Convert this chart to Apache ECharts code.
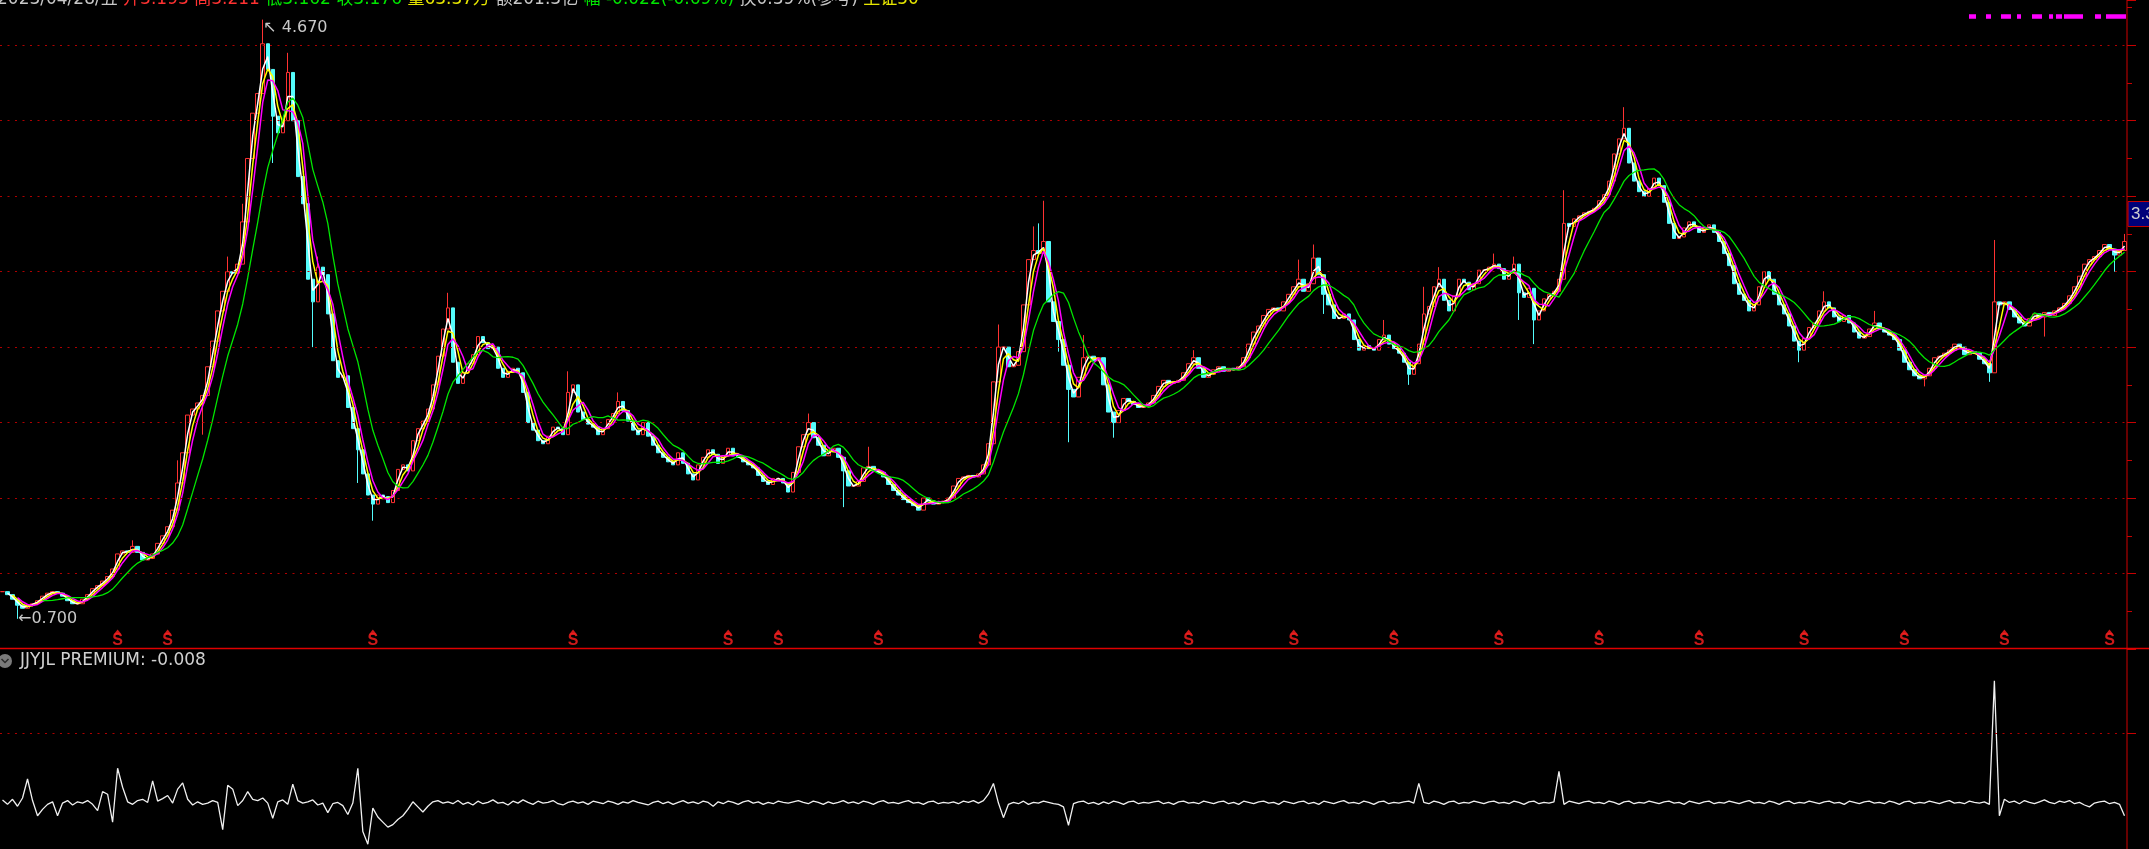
<!DOCTYPE html>
<html>
<head>
<meta charset="utf-8">
<title>JJYJL PREMIUM</title>
<script src="https://cdn.jsdelivr.net/npm/echarts@6/dist/echarts.min.js"></script>
<style>
  html, body { margin: 0; padding: 0; background: #000; overflow: hidden; }
  #main { width: 2149px; height: 849px; }
</style>
</head>
<body>
<div id="main"></div>
<script>
// 收盘价, 每根K线一个, 从图上读出 (开盘取前一日收盘)
var closes = [
  0.88,0.86,0.83,0.79,0.77,0.79,0.80,0.82,0.85,0.87,
  0.88,0.87,0.85,0.82,0.80,0.80,0.83,0.86,0.90,0.92,
  0.95,0.98,1.03,1.13,1.15,1.14,1.18,1.14,1.09,1.10,
  1.13,1.20,1.25,1.31,1.42,1.60,1.80,2.05,2.09,2.13,
  2.18,2.37,2.54,2.74,2.87,3.00,2.99,3.05,3.33,3.75,
  4.05,4.18,4.51,4.34,4.03,3.92,4.00,4.32,4.00,3.63,
  3.45,2.95,2.80,3.03,2.98,2.72,2.41,2.30,2.31,2.10,
  1.96,1.82,1.66,1.52,1.46,1.52,1.51,1.47,1.55,1.69,
  1.72,1.68,1.88,1.96,2.01,2.09,2.25,2.44,2.62,2.76,
  2.40,2.26,2.33,2.39,2.45,2.57,2.53,2.49,2.50,2.36,
  2.30,2.34,2.36,2.33,2.20,2.00,1.95,1.88,1.86,1.91,
  1.97,1.96,1.92,2.20,2.25,2.07,2.02,1.99,1.97,1.92,
  1.96,2.02,2.06,2.14,2.08,2.01,1.95,1.92,2.00,1.91,
  1.85,1.80,1.77,1.74,1.72,1.80,1.73,1.66,1.62,1.72,
  1.77,1.82,1.79,1.73,1.78,1.83,1.78,1.77,1.74,1.72,
  1.70,1.65,1.61,1.59,1.63,1.63,1.60,1.54,1.67,1.84,
  1.92,2.00,1.90,1.85,1.78,1.81,1.83,1.77,1.68,1.58,
  1.58,1.61,1.70,1.71,1.68,1.67,1.64,1.59,1.55,1.52,
  1.49,1.47,1.45,1.42,1.50,1.48,1.46,1.47,1.48,1.50,
  1.58,1.63,1.64,1.65,1.64,1.66,1.72,1.86,2.27,2.50,
  2.50,2.37,2.38,2.47,2.78,3.08,3.14,3.12,3.20,2.80,
  2.67,2.55,2.38,2.22,2.17,2.30,2.43,2.44,2.41,2.43,
  2.25,2.07,2.00,2.08,2.16,2.14,2.12,2.10,2.11,2.13,
  2.18,2.24,2.28,2.26,2.27,2.28,2.33,2.39,2.43,2.36,
  2.30,2.32,2.35,2.37,2.34,2.36,2.35,2.37,2.43,2.52,
  2.60,2.64,2.71,2.75,2.76,2.74,2.80,2.85,2.90,2.95,
  2.87,2.92,3.09,2.98,2.85,2.78,2.69,2.69,2.72,2.68,
  2.55,2.48,2.51,2.49,2.48,2.55,2.58,2.52,2.49,2.46,
  2.40,2.32,2.39,2.52,2.72,2.77,2.90,2.95,2.81,2.74,
  2.84,2.95,2.93,2.88,2.92,3.01,3.01,3.03,3.05,3.02,
  2.95,2.99,3.05,2.86,2.83,2.89,2.68,2.74,2.82,2.85,
  2.87,2.95,3.32,3.30,3.35,3.37,3.39,3.40,3.42,3.47,
  3.51,3.60,3.78,3.88,3.95,3.72,3.60,3.53,3.50,3.55,
  3.62,3.57,3.46,3.32,3.22,3.23,3.29,3.33,3.30,3.26,
  3.28,3.31,3.26,3.20,3.12,3.04,2.92,2.85,2.81,2.74,
  2.78,2.90,3.00,2.95,2.85,2.78,2.72,2.64,2.54,2.48,
  2.56,2.63,2.66,2.74,2.80,2.76,2.70,2.67,2.71,2.66,
  2.60,2.56,2.57,2.62,2.66,2.62,2.60,2.58,2.55,2.48,
  2.40,2.35,2.31,2.29,2.31,2.36,2.43,2.44,2.46,2.48,
  2.52,2.50,2.45,2.47,2.46,2.42,2.39,2.33,2.80,2.78,
  2.80,2.75,2.70,2.66,2.64,2.69,2.72,2.70,2.73,2.71,
  2.74,2.76,2.79,2.84,2.90,2.97,3.05,3.08,3.10,3.14,
  3.18,3.15,3.11,3.14,3.20
];

// 明显的上下影线 [序号, 价格]
var wickHighs = [
  [26,1.22],[35,1.75],[45,3.10],[48,3.45],[52,4.67],[57,4.45],[63,3.10],[89,2.86],
  [113,2.34],[123,2.20],[161,2.06],[173,1.84],[199,2.65],[206,3.30],[207,3.32],[208,3.47],
  [216,2.58],[238,2.48],[259,3.08],[262,3.18],[276,2.68],[284,2.90],[287,3.03],[298,3.12],
  [302,3.10],[312,3.54],[324,4.09],[364,2.87],[374,2.74],[398,3.21],[424,3.25]
];
var wickLows = [
  [3,0.70],[40,1.92],[54,3.72],[62,2.50],[71,1.60],[74,1.35],[168,1.44],[211,2.47],
  [213,1.87],[222,1.90],[264,2.72],[281,2.25],[303,2.68],[306,2.52],[359,2.40],[384,2.24],
  [397,2.27],[408,2.57],[422,3.00]
];

// 下方副图 JJYJL PREMIUM
var premium = [
  -0.005,-0.012,-0.004,-0.015,-0.002,0.028,-0.006,-0.030,-0.020,-0.012,
  -0.008,-0.030,-0.010,-0.006,-0.013,-0.008,-0.010,-0.006,-0.012,-0.022,
  0.008,0.004,-0.040,0.045,0.015,-0.008,-0.012,-0.006,-0.004,-0.009,
  0.025,-0.007,-0.003,0.002,-0.010,0.012,0.022,-0.004,-0.013,-0.008,
  -0.012,-0.010,-0.006,-0.009,-0.052,0.018,0.012,-0.014,-0.006,0.008,
  -0.004,-0.006,-0.002,-0.010,-0.034,-0.008,-0.005,-0.012,0.020,-0.006,
  -0.010,-0.008,-0.005,-0.013,-0.010,-0.025,-0.011,-0.009,-0.014,-0.028,
  -0.010,0.045,-0.055,-0.075,-0.018,-0.032,-0.040,-0.048,-0.044,-0.036,
  -0.030,-0.020,-0.008,-0.016,-0.024,-0.015,-0.008,-0.006,-0.010,-0.008,
  -0.011,-0.006,-0.012,-0.009,-0.013,-0.007,-0.011,-0.009,-0.005,-0.010,
  -0.009,-0.013,-0.007,-0.010,-0.005,-0.009,-0.012,-0.007,-0.010,-0.009,
  -0.006,-0.011,-0.013,-0.009,-0.007,-0.010,-0.008,-0.012,-0.007,-0.009,
  -0.011,-0.007,-0.009,-0.012,-0.008,-0.010,-0.006,-0.009,-0.011,-0.013,
  -0.009,-0.007,-0.011,-0.008,-0.012,-0.009,-0.006,-0.010,-0.008,-0.011,
  -0.007,-0.009,-0.015,-0.008,-0.011,-0.007,-0.009,-0.012,-0.008,-0.006,
  -0.010,-0.008,-0.012,-0.009,-0.011,-0.007,-0.009,-0.010,-0.008,-0.006,
  -0.009,-0.011,-0.007,-0.009,-0.012,-0.008,-0.011,-0.009,-0.006,-0.010,
  -0.008,-0.011,-0.007,-0.009,-0.012,-0.008,-0.006,-0.010,-0.009,-0.011,
  -0.008,-0.006,-0.010,-0.009,-0.012,-0.008,-0.007,-0.011,-0.009,-0.010,
  -0.008,-0.011,-0.007,-0.009,-0.006,-0.010,-0.006,0.004,0.021,-0.010,
  -0.033,-0.012,-0.009,-0.011,-0.007,-0.012,-0.009,-0.010,-0.007,-0.009,
  -0.011,-0.012,-0.016,-0.045,-0.011,-0.008,-0.007,-0.011,-0.009,-0.012,
  -0.008,-0.011,-0.007,-0.009,-0.012,-0.008,-0.007,-0.011,-0.009,-0.010,
  -0.008,-0.007,-0.011,-0.009,-0.012,-0.008,-0.007,-0.010,-0.009,-0.011,
  -0.007,-0.009,-0.011,-0.008,-0.007,-0.011,-0.009,-0.012,-0.007,-0.009,
  -0.011,-0.008,-0.007,-0.010,-0.009,-0.012,-0.007,-0.009,-0.011,-0.008,
  -0.007,-0.011,-0.009,-0.012,-0.007,-0.009,-0.011,-0.008,-0.006,-0.010,
  -0.009,-0.011,-0.007,-0.009,-0.012,-0.008,-0.007,-0.011,-0.009,-0.010,
  -0.008,-0.007,-0.010,0.021,-0.009,-0.011,-0.007,-0.009,-0.012,-0.008,
  -0.007,-0.011,-0.009,-0.010,-0.007,-0.009,-0.011,-0.008,-0.007,-0.010,
  -0.009,-0.011,-0.007,-0.009,-0.012,-0.008,-0.007,-0.011,-0.009,-0.010,
  -0.008,0.040,-0.012,-0.007,-0.009,-0.011,-0.008,-0.007,-0.010,-0.009,
  -0.011,-0.007,-0.009,-0.012,-0.008,-0.007,-0.011,-0.009,-0.010,-0.007,
  -0.009,-0.011,-0.008,-0.007,-0.010,-0.009,-0.012,-0.007,-0.009,-0.011,
  -0.008,-0.007,-0.011,-0.009,-0.010,-0.007,-0.009,-0.011,-0.008,-0.006,
  -0.010,-0.009,-0.011,-0.007,-0.009,-0.012,-0.008,-0.007,-0.011,-0.009,
  -0.010,-0.007,-0.009,-0.011,-0.008,-0.007,-0.010,-0.009,-0.012,-0.007,
  -0.009,-0.011,-0.008,-0.007,-0.010,-0.009,-0.011,-0.007,-0.009,-0.012,
  -0.008,-0.007,-0.011,-0.009,-0.010,-0.007,-0.009,-0.011,-0.008,-0.006,
  -0.010,-0.009,-0.011,-0.007,-0.009,-0.010,-0.008,-0.012,0.183,-0.030,
  -0.004,-0.009,-0.007,-0.011,-0.006,-0.009,-0.011,-0.008,-0.005,-0.009,
  -0.011,-0.007,-0.009,-0.006,-0.011,-0.009,-0.013,-0.016,-0.010,-0.008,
  -0.007,-0.011,-0.009,-0.012,-0.030
];

var priceTicks = [1.0, 1.5, 2.0, 2.5, 3.0, 3.5, 4.0, 4.5];
var premiumTicks = [0.1];
// 分红/送转标记所在的K线序号
var dividendIdx = [23,33,74,114,145,155,175,196,237,258,278,299,319,339,360,380,400,421];
var lastPrice = 3.382;
var premiumNow = -0.008;

var idx = closes.map(function (c, i) { return i; });

var candles = closes.map(function (c, i) {
  var o = i === 0 ? c : closes[i - 1];
  return [o, c, Math.min(o, c), Math.max(o, c)];
});
wickHighs.forEach(function (w) { candles[w[0]][3] = w[1]; });
wickLows.forEach(function (w) { candles[w[0]][2] = w[1]; });

function ma(n) {
  return closes.map(function (c, i) {
    if (i < n - 1) return '-';
    var s = 0;
    for (var k = 0; k < n; k++) s += closes[i - k];
    return +(s / n).toFixed(3);
  });
}

var gridRed = '#b00000';
var axisRed = '#8b0000';
var tickRed = '#c80000';

var chart = echarts.init(document.getElementById('main'));

var option = {
  backgroundColor: '#000',
  animation: false,
  grid: [
    { left: 0, right: 22, top: 0, height: 649 },
    { left: 0, right: 22, top: 649, height: 200 }
  ],
  xAxis: [
    { type: 'category', gridIndex: 0, data: idx, show: false, boundaryGap: true },
    { type: 'category', gridIndex: 1, data: idx, show: false, boundaryGap: true }
  ],
  yAxis: [
    {
      type: 'value', gridIndex: 0, position: 'right',
      min: 0.5, max: 4.8, interval: 0.5,
      axisLine: { show: true, lineStyle: { color: axisRed, width: 1.5 } },
      axisTick: { show: true, length: 9, lineStyle: { color: tickRed } },
      minorTick: { show: true, splitNumber: 2, length: 5, lineStyle: { color: tickRed } },
      axisLabel: { show: false },
      splitLine: { show: false }
    },
    {
      type: 'value', gridIndex: 1, position: 'right',
      min: -0.0825, max: 0.2333,
      axisLine: { show: true, lineStyle: { color: axisRed, width: 1.5 } },
      axisTick: { show: true, length: 9, customValues: premiumTicks, lineStyle: { color: tickRed } },
      axisLabel: { show: false },
      splitLine: { show: false }
    }
  ],
  series: [
    {
      name: 'K', type: 'candlestick',
      xAxisIndex: 0, yAxisIndex: 0,
      data: candles,
      barWidth: 4,
      itemStyle: {
        color: '#000', borderColor: '#ff3232',
        color0: '#54fcfc', borderColor0: '#54fcfc',
        borderWidth: 1
      },
      markLine: {
        silent: true, symbol: ['none', 'none'], animation: false,
        label: { show: false },
        lineStyle: { color: gridRed, type: [2, 5.5], width: 1 },
        data: priceTicks.map(function (v) { return { yAxis: v }; })
      },
      markPoint: {
        silent: true, animation: false,
        data: [
          {
            type: 'max', valueDim: 'highest', symbol: 'rect', symbolSize: 1,
            itemStyle: { color: 'rgba(0,0,0,0)' },
            label: {
              show: true, position: 'right', distance: 0, offset: [0, 8],
              color: '#c8c8c8', fontSize: 16, fontFamily: 'DejaVu Sans',
              formatter: function (p) { return '↖ ' + p.value.toFixed(3); }
            }
          },
          {
            type: 'min', valueDim: 'lowest', symbol: 'rect', symbolSize: 1,
            itemStyle: { color: 'rgba(0,0,0,0)' },
            label: {
              show: true, position: 'right', distance: 0, offset: [0, 0],
              color: '#c8c8c8', fontSize: 16, fontFamily: 'DejaVu Sans',
              formatter: function (p) { return '←' + p.value.toFixed(3); }
            }
          }
        ]
      }
    },
    { name: 'MA2', type: 'line', data: ma(2), symbol: 'none', lineStyle: { color: '#ffffff', width: 1.5 } },
    { name: 'MA3', type: 'line', data: ma(3), symbol: 'none', lineStyle: { color: '#ffff00', width: 1.5 } },
    { name: 'MA4', type: 'line', data: ma(4), symbol: 'none', lineStyle: { color: '#ff00ff', width: 1.5 } },
    { name: 'MA9', type: 'line', data: ma(9), symbol: 'none', lineStyle: { color: '#00e600', width: 1.3 } },
    {
      name: 'S', type: 'scatter', xAxisIndex: 0, yAxisIndex: 0, clip: false,
      data: dividendIdx.map(function (i) { return [i, 0.5]; }),
      symbol: 'triangle', symbolSize: [8, 5], symbolOffset: [0, -17],
      itemStyle: { color: '#ff2020' },
      label: {
        show: true, formatter: 'S', position: 'bottom', distance: 0,
        color: '#ff2020', fontSize: 16, fontWeight: 'bold',
        fontFamily: 'Liberation Sans', lineHeight: 12
      }
    },
    {
      name: 'PREMIUM', type: 'line', xAxisIndex: 1, yAxisIndex: 1,
      data: premium, symbol: 'none',
      lineStyle: { color: '#f0f0f0', width: 1.3 },
      markLine: {
        silent: true, symbol: ['none', 'none'], animation: false,
        label: { show: false },
        lineStyle: { color: gridRed, type: [2, 5.5], width: 1 },
        data: premiumTicks.map(function (v) { return { yAxis: v }; })
      }
    }
  ]
};

chart.setOption(option);

var tagY = chart.convertToPixel({ yAxisIndex: 0 }, lastPrice);
var cjk = '"DejaVu Sans", "Noto Sans CJK SC"';

chart.setOption({
  graphic: [
    {
      type: 'text', x: -3, y: 0, z: 100,
      style: {
        text: '{w|2023/04/28/五 }{r|开3.193 高3.211 }{g|低3.162 收3.176 }{y|量63.37万 }{w|额201.3亿 }{g|幅 -0.022(-0.69%) }{w|换0.39%(参考) }{y|上证50}',
        verticalAlign: 'middle',
        fontSize: 17, fontFamily: cjk,
        rich: {
          w: { fill: '#c8c8c8', fontSize: 17, fontFamily: cjk },
          r: { fill: '#ff3232', fontSize: 17, fontFamily: cjk },
          g: { fill: '#00e600', fontSize: 17, fontFamily: cjk },
          y: { fill: '#e6e600', fontSize: 17, fontFamily: cjk }
        }
      }
    },
    {
      type: 'line', z: 100,
      shape: { x1: 1969, y1: 16.5, x2: 2127, y2: 16.5 },
      style: { stroke: '#ff00ff', lineWidth: 4.5, lineDash: [7, 10, 5, 10, 10, 6, 4, 11, 10, 7, 4, 3, 6, 2, 19, 12, 6, 5, 20, 100] }
    },
    {
      type: 'line', z: 100,
      shape: { x1: 0, y1: 648.5, x2: 2149, y2: 648.5 },
      style: { stroke: '#e00000', lineWidth: 1.5 }
    },
    {
      type: 'rect', z: 100,
      shape: { x: 2128, y: tagY - 12.5, width: 40, height: 25 },
      style: { fill: '#00007a', stroke: '#c80000', lineWidth: 1 }
    },
    {
      type: 'text', z: 101, x: 2131, y: tagY,
      style: { text: lastPrice.toFixed(3), fill: '#d0d0d0', fontSize: 17, fontFamily: 'Liberation Sans', verticalAlign: 'middle' }
    },
    {
      type: 'circle', z: 100,
      shape: { cx: 5, cy: 661, r: 7 },
      style: { fill: '#7a7a7a' }
    },
    {
      type: 'polyline', z: 101,
      shape: { points: [[1.5, 659], [5, 662.5], [8.5, 659]] },
      style: { stroke: '#2a2a2a', lineWidth: 1.5, fill: null }
    },
    {
      type: 'text', z: 100, x: 20, y: 661,
      style: {
        text: 'JJYJL PREMIUM: ' + premiumNow.toFixed(3),
        fill: '#d0d0d0', fontSize: 17, fontFamily: 'DejaVu Sans', verticalAlign: 'middle'
      }
    }
  ]
});
</script>
</body>
</html>
